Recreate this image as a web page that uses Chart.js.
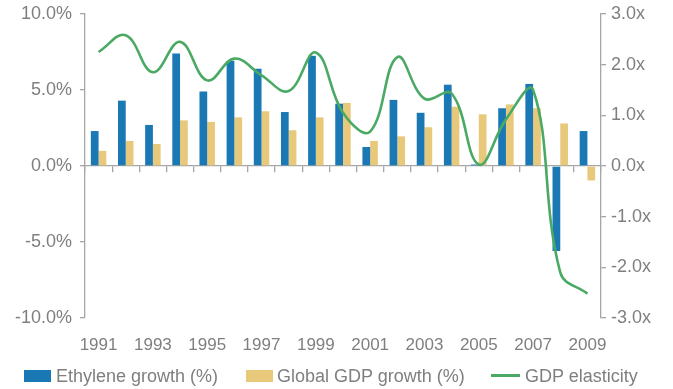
<!DOCTYPE html>
<html>
<head>
<meta charset="utf-8">
<script src="https://cdn.jsdelivr.net/npm/chart.js@4/dist/chart.umd.min.js"></script>
<style>
  html, body { margin: 0; padding: 0; background: #fff; }
  #wrap { position: relative; width: 673px; height: 389px; }
  #legend { position: absolute; left: 0; top: 366px; width: 673px; height: 20px;
            font-family: "Liberation Sans", Arial, sans-serif; font-size: 18px; color: #7f7f7f; }
  .item { position: absolute; top: 0; line-height: 20px; white-space: nowrap; }
  .swatch { position: absolute; top: 4px; width: 27px; height: 12px; }
  .ln { position: absolute; top: 8px; width: 29px; height: 3px; }
</style>
</head>
<body>
<div id="wrap">
  <canvas id="c" width="673" height="389"></canvas>
  <div id="legend"></div>
</div>
<script>
// Years on the category axis
const years = [1991,1992,1993,1994,1995,1996,1997,1998,1999,2000,
               2001,2002,2003,2004,2005,2006,2007,2008,2009];
// Ethylene demand growth, % per year
const ethyleneGrowth = [2.3,4.3,2.7,7.4,4.9,6.9,6.4,3.55,7.25,4.1,
                        1.25,4.35,3.5,5.35,0.1,3.8,5.4,-5.6,2.3];
// Global GDP growth, % per year
const gdpGrowth = [1.0,1.65,1.45,3.0,2.9,3.2,3.6,2.35,3.2,4.15,
                   1.65,1.95,2.55,3.9,3.4,4.05,3.8,2.8,-0.95];
// Ethylene growth relative to GDP growth (x)
const gdpElasticity = [2.25,2.58,1.85,2.45,1.69,2.12,1.79,1.48,2.24,1.05,
                       0.68,2.15,1.33,1.43,0.03,0.92,1.5,-2.1,-2.52];
// Axis tick values
const pctTicks = [-10,-5,0,5,10];
const multTicks = [-3,-2,-1,0,1,2,3];

const BLUE = '#1a78b4', GOLD = '#e8c97b', GREEN = '#4aaa64';
const AXIS = '#a6a6a6', TEXT = '#7f7f7f';
const FONT = '"Liberation Sans", Arial, sans-serif';

const legendItems = [
  { label: 'Ethylene growth (%)', color: BLUE, kind: 'box', x: 24, gap: 32 },
  { label: 'Global GDP growth (%)', color: GOLD, kind: 'box', x: 246, gap: 31 },
  { label: 'GDP elasticity', color: GREEN, kind: 'line', x: 491, gap: 34 }
];
const lg = document.getElementById('legend');
legendItems.forEach(it => {
  const d = document.createElement('div');
  d.className = 'item';
  d.style.left = it.x + 'px';
  const s = document.createElement('span');
  s.className = it.kind === 'box' ? 'swatch' : 'ln';
  s.style.background = it.color;
  s.style.left = '0px';
  d.appendChild(s);
  const t = document.createElement('span');
  t.textContent = it.label;
  t.style.marginLeft = it.gap + 'px';
  d.appendChild(t);
  lg.appendChild(d);
});

// keep the plot box fixed regardless of label overflow
const noPad = s => { s.paddingTop = 0; s.paddingBottom = 0; s.paddingLeft = 0; s.paddingRight = 0; };

new Chart(document.getElementById('c'), {
  data: {
    labels: years.map(String),
    datasets: [
      { type: 'line', label: 'GDP elasticity', data: gdpElasticity, yAxisID: 'y1',
        borderColor: GREEN, borderWidth: 2.6, pointRadius: 0, tension: 0.4,
        cubicInterpolationMode: 'default', fill: false, order: 0 },
      { type: 'bar', label: 'Ethylene growth (%)', data: ethyleneGrowth, yAxisID: 'y',
        backgroundColor: BLUE, categoryPercentage: 0.57, barPercentage: 1.0, order: 1 },
      { type: 'bar', label: 'Global GDP growth (%)', data: gdpGrowth, yAxisID: 'y',
        backgroundColor: GOLD, categoryPercentage: 0.57, barPercentage: 1.0, order: 1 }
    ]
  },
  options: {
    responsive: false,
    animation: false,
    layout: { padding: { top: 14, bottom: 0, left: 0, right: 0 } },
    plugins: { legend: { display: false }, tooltip: { enabled: false } },
    scales: {
      x: {
        type: 'category', position: 'bottom', offset: true,
        grid: { display: false }, border: { display: false },
        ticks: {
          autoSkip: false, maxRotation: 0, padding: 9, color: TEXT,
          font: { family: FONT, size: 17 },
          callback: (v, i) => (i % 2 === 0 ? String(years[i]) : '')
        },
        afterFit: s => { s.height = 71; noPad(s); }
      },
      xZero: {
        type: 'category', position: { y: 0 }, offset: true,
        grid: { offset: true, drawOnChartArea: false, drawTicks: true, tickLength: 6, color: AXIS, lineWidth: 1.3 },
        border: { display: true, color: AXIS, width: 1.3 },
        ticks: { display: false },
        afterFit: s => { noPad(s); }
      },
      y: {
        position: 'left', min: -10, max: 10,
        afterBuildTicks: s => { s.ticks = pctTicks.map(v => ({ value: v })); },
        grid: { drawOnChartArea: false, tickLength: 5, color: AXIS, lineWidth: 1.3 },
        border: { color: AXIS, width: 1.3 },
        ticks: { padding: 8, color: TEXT, font: { family: FONT, size: 18 },
                 callback: v => v.toFixed(1) + '%' },
        afterFit: s => { s.width = 85; noPad(s); }
      },
      y1: {
        position: 'right', min: -3, max: 3,
        afterBuildTicks: s => { s.ticks = multTicks.map(v => ({ value: v })); },
        grid: { drawOnChartArea: false, tickLength: 5, color: AXIS, lineWidth: 1.3 },
        border: { color: AXIS, width: 1.3 },
        ticks: { padding: 5, color: TEXT, font: { family: FONT, size: 18 },
                 callback: v => v.toFixed(1) + 'x' },
        afterFit: s => { s.width = 72; noPad(s); }
      }
    }
  }
});
</script>
</body>
</html>
